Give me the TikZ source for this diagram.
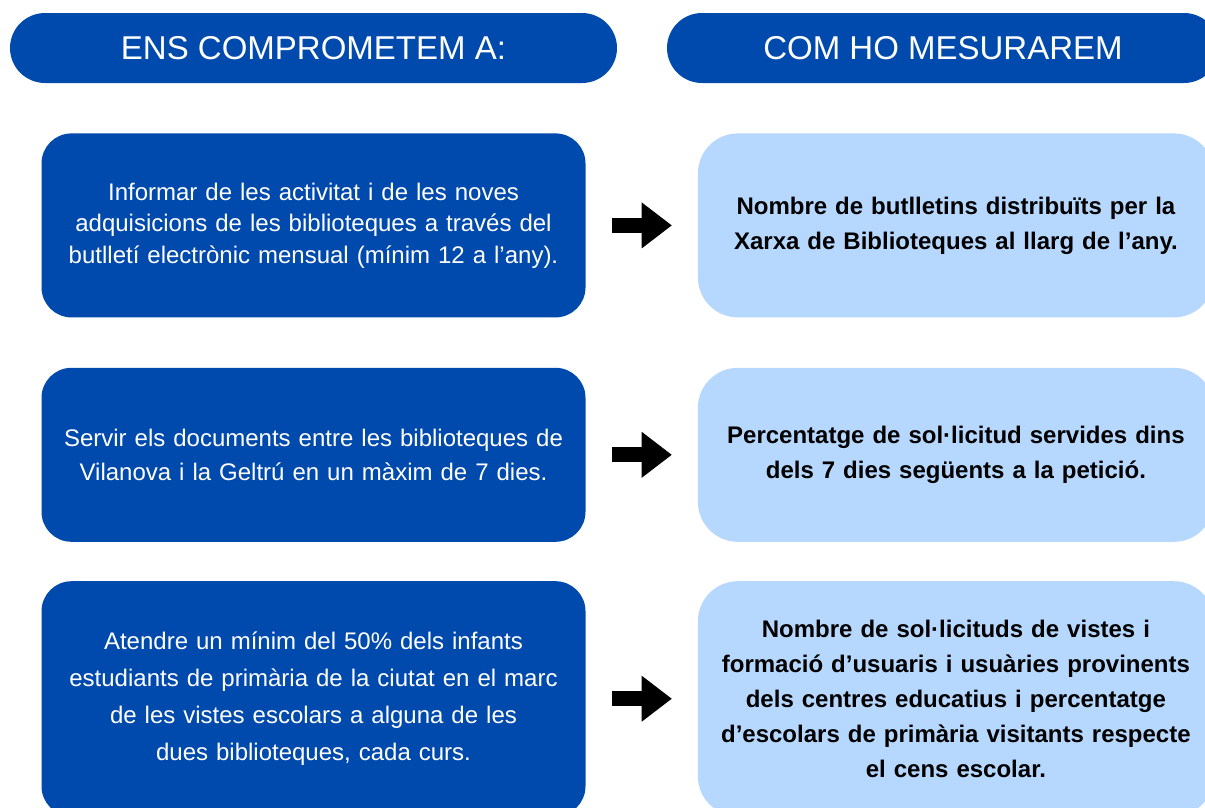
\documentclass[tikz,border=0pt]{standalone}
\usepackage{fontspec}
\setmainfont{Liberation Sans}
\usetikzlibrary{positioning,arrows.meta}
\definecolor{darkblue}{HTML}{004AAD}
\definecolor{lightblue}{HTML}{B6D7FE}

\begin{document}
\begin{tikzpicture}[x=1pt, y=-1pt,
	header/.style={rectangle, rounded corners=35pt, fill=darkblue, text=white, minimum height=70pt, inner sep=0pt, font=\fontsize{33}{38}\selectfont},
	commit/.style={rectangle, rounded corners=30pt, fill=darkblue, text=white, text width=530pt, align=center, minimum width=544pt, inner sep=0pt, font=\fontsize{24}{34}\selectfont},
	measure/.style={rectangle, rounded corners=40pt, fill=lightblue, text=black, text width=505pt, align=center, minimum width=516pt, inner sep=0pt, font=\bfseries\fontsize{24}{35}\selectfont},
	blockarrow/.style={line width=15pt, -{Triangle[length=30pt, width=46pt, line width=0pt]}, shorten <=26pt, shorten >=26pt}
	]
	\useasboundingbox (0,0) rectangle (1205,807);
	\clip (0,0) rectangle (1205,807);

		\node (ensheader) [header, minimum width=607pt] at (313.5,48) {ENS COMPROMETEM A:};
		\node (comheader) [header, minimum width=552pt] at (943,48) {COM HO MESURAREM};

		\node (informar) [commit, minimum height=184pt, below=50pt of ensheader, font=\fontsize{24}{31.5}\selectfont] {Informar de les activitat i de les noves\\ adquisicions de les biblioteques a través del\\ butlletí electrònic mensual (mínim 12 a l’any).};
		\node (servir) [commit, minimum height=174pt, below=50pt of informar] {Servir els documents entre les biblioteques de\\ Vilanova i la Geltrú en un màxim de 7 dies.};
		\node (atendre) [commit, minimum height=235pt, below=39pt of servir, font=\fontsize{24}{37}\selectfont] {Atendre un mínim del 50\% dels infants\\ estudiants de primària de la ciutat en el marc\\ de les vistes escolars a alguna de les\\ dues biblioteques, cada curs.};

		\node (butlletins) [measure, minimum height=184pt, right=112pt of informar] {Nombre de butlletins distribuïts per la\\ Xarxa de Biblioteques al llarg de l’any.};
		\node (peticions) [measure, minimum height=174pt, right=112pt of servir] {Percentatge de sol·licitud servides dins\\ dels 7 dies següents a la petició.};
		\node (visites) [measure, minimum height=235pt, right=112pt of atendre] {Nombre de sol·licituds de vistes i\\ formació d’usuaris i usuàries provinents\\ dels centres educatius i percentatge\\ d’escolars de primària visitants respecte\\ el cens escolar.};

	\draw [blockarrow] (informar) -- (butlletins);
	\draw [blockarrow] (servir) -- (peticions);
	\draw [blockarrow] (atendre) -- (visites);

\end{tikzpicture}
\end{document}
